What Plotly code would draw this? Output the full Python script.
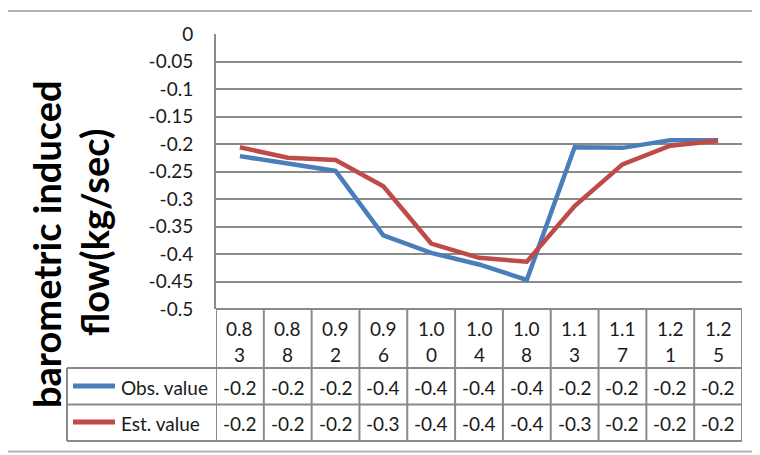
import plotly.graph_objects as go

# ---- data ----
x_labels = ["0.83", "0.88", "0.92", "0.96", "1.00", "1.04", "1.08", "1.13", "1.17", "1.21", "1.25"]
obs_values = [-0.222, -0.236, -0.249, -0.366, -0.398, -0.419, -0.447, -0.206, -0.207, -0.193, -0.193]
est_values = [-0.206, -0.225, -0.229, -0.277, -0.381, -0.407, -0.414, -0.313, -0.237, -0.203, -0.194]
series_names = ["Obs. value", "Est. value"]
y_tickvals = [0, -0.05, -0.1, -0.15, -0.2, -0.25, -0.3, -0.35, -0.4, -0.45, -0.5]
y_ticktext = ["0", "-0.05", "-0.1", "-0.15", "-0.2", "-0.25", "-0.3", "-0.35", "-0.4", "-0.45", "-0.5"]
y_title_lines = ["barometric induced", "flow(kg/sec)"]

# ---- styling / layout (reference-pixel based; page body has an 8px margin) ----
OFF = 8
W, H = 760 - OFF, 455 - OFF
PL, PR, PT, PB = 216, 742, 34, 309          # plot area in reference pixels
L, R, T, B = PL - OFF, 760 - PR, PT - OFF, 455 - PB
PW, PH = PR - PL, PB - PT
BLUE = "#4A7EBB"
RED = "#BE4B48"
GRID = "#8A8A8A"
FONT = "Lato"
TXT = "#1a1a1a"
FS = 19

def px(xp):
    return (xp - PL) / PW

def py(yp):
    return (PB - yp) / PH

n = len(x_labels)
idx = list(range(n))

fig = go.Figure()
for name, vals, col in [(series_names[0], obs_values, BLUE), (series_names[1], est_values, RED)]:
    fig.add_trace(go.Scatter(x=idx, y=vals, mode="lines", name=name,
                             line=dict(color=col, width=4.5), showlegend=False))

shapes = []
annotations = []

# outer chart border lines (top/bottom)
for yp in (11, 451.5):
    shapes.append(dict(type="line", xref="paper", yref="paper", x0=px(-5), x1=px(765),
                       y0=py(yp), y1=py(yp), line=dict(color="#B4B4B4", width=2)))

# table geometry
row1 = 368
row2 = 404.5
row3 = 441
left_col = 67
lc = dict(color=GRID, width=2)

shapes.append(dict(type="line", xref="paper", yref="paper", x0=0, x1=1, y0=0, y1=0, line=lc))
for yp in (row1, row2, row3):
    shapes.append(dict(type="line", xref="paper", yref="paper", x0=px(left_col), x1=1,
                       y0=py(yp), y1=py(yp), line=lc))
for k in range(n + 1):
    shapes.append(dict(type="line", xref="x", yref="paper", x0=k - 0.5, x1=k - 0.5,
                       y0=0, y1=py(row3), line=lc))
shapes.append(dict(type="line", xref="paper", yref="paper", x0=px(left_col), x1=px(left_col),
                   y0=py(row1), y1=py(row3), line=lc))

# header labels (split into two lines like the original)
for i, lab in enumerate(x_labels):
    for part, yc in ((lab[:3], 328), (lab[3:], 354)):
        annotations.append(dict(x=i, y=py(yc), xref="x", yref="paper", text=part, showarrow=False,
                                font=dict(family=FONT, size=FS, color=TXT),
                                xanchor="center", yanchor="middle"))

# value rows with legend keys
rows = [(obs_values, BLUE, series_names[0], 387), (est_values, RED, series_names[1], 423)]
for vals, col, name, yc in rows:
    for i, v in enumerate(vals):
        annotations.append(dict(x=i, y=py(yc), xref="x", yref="paper", text=f"{round(v, 1):.1f}",
                                showarrow=False, font=dict(family=FONT, size=FS, color=TXT),
                                xanchor="center", yanchor="middle"))
    shapes.append(dict(type="line", xref="paper", yref="paper", x0=px(73), x1=px(115),
                       y0=py(yc - 1), y1=py(yc - 1), line=dict(color=col, width=5)))
    annotations.append(dict(x=px(119), y=py(yc), xref="paper", yref="paper", text=name,
                            showarrow=False, font=dict(family=FONT, size=FS, color=TXT),
                            xanchor="left", yanchor="middle"))

# y-axis title, two rotated lines
for line_txt, xc, yc in ((y_title_lines[0], 46, 244), (y_title_lines[1], 94, 233)):
    annotations.append(dict(x=px(xc), y=py(yc), xref="paper", yref="paper", text="<b>" + line_txt + "</b>",
                            showarrow=False, textangle=-90, font=dict(family=FONT, size=38, color="#000"),
                            xanchor="center", yanchor="middle"))

fig.update_layout(
    width=W, height=H,
    margin=dict(l=L, r=R, t=T, b=B, pad=0),
    paper_bgcolor="white", plot_bgcolor="white",
    shapes=shapes, annotations=annotations,
    showlegend=False,
)
fig.update_xaxes(range=[-0.5, n - 0.5], showticklabels=False, showgrid=False, zeroline=False,
                 showline=False, ticks="", fixedrange=True)
fig.update_yaxes(range=[-0.5, 0.0], tickvals=y_tickvals, ticktext=y_ticktext, showgrid=True,
                 gridcolor=GRID, gridwidth=2, zeroline=False, showline=True, linecolor=GRID,
                 linewidth=2, ticks="", ticklabelstandoff=17,
                 tickfont=dict(family=FONT, size=FS, color=TXT), fixedrange=True)

fig.write_html("out.html")
